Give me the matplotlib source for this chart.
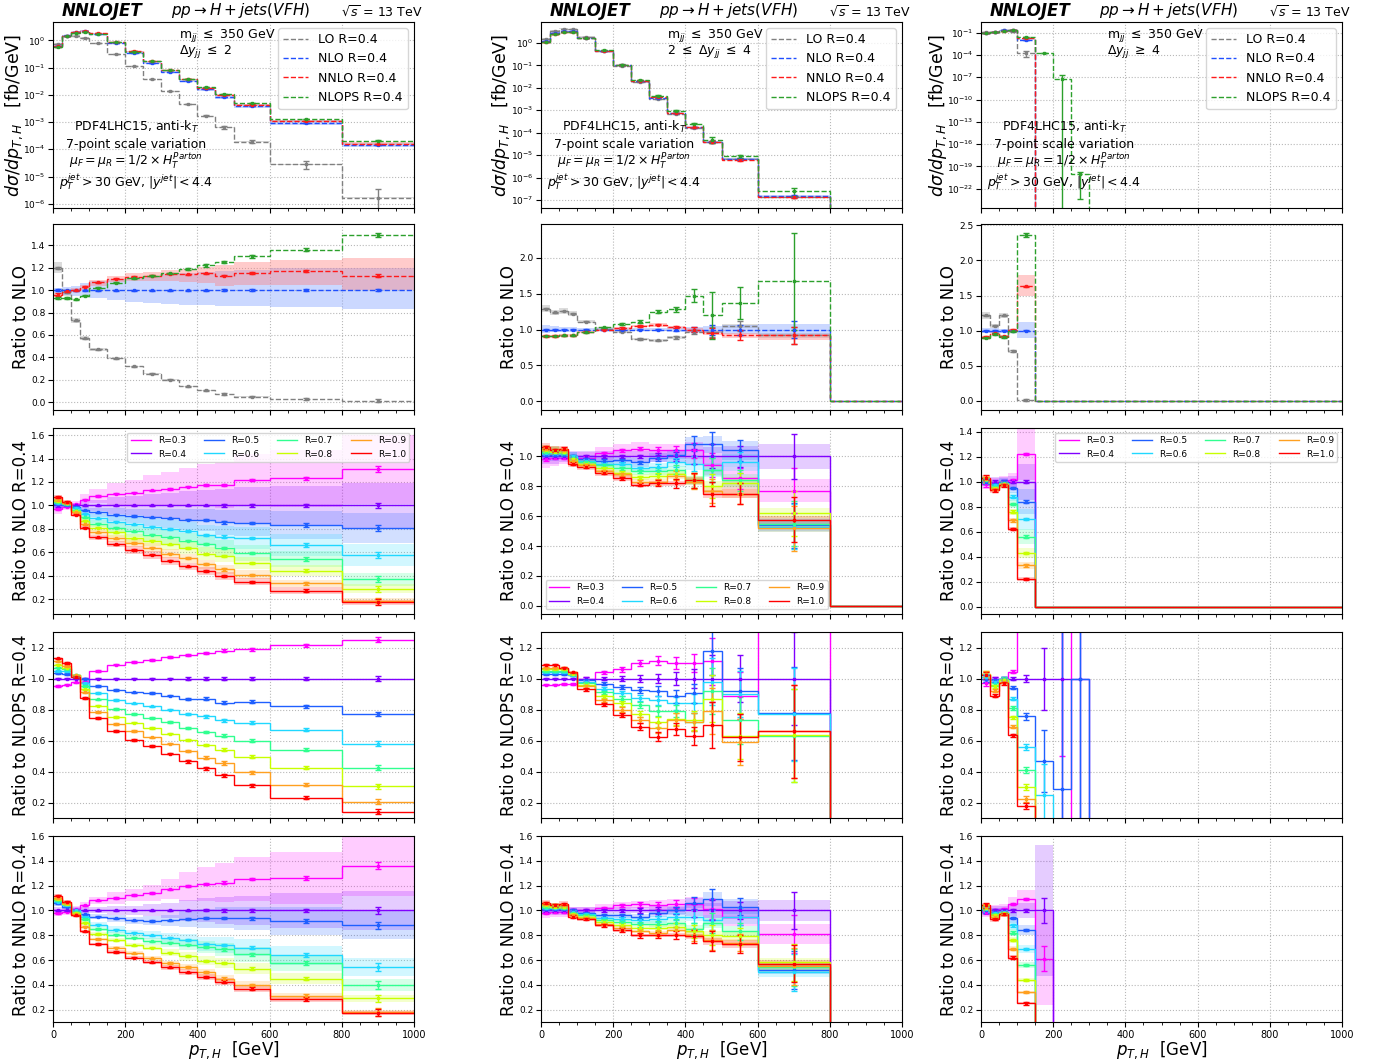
import matplotlib.pyplot as plt
import numpy as np
from matplotlib.ticker import MultipleLocator, NullLocator

# pT,H bins (GeV)
edges = np.array([0, 25, 50, 75, 100, 150, 200, 250, 300, 350, 400, 450, 500, 600, 800, 1000])
centers = 0.5 * (edges[:-1] + edges[1:])

cut_mjj = r'm$_{jj}$ $\leq$ 350 GeV'
cut_dy = [r'$\Delta y_{jj}$ $\leq$ 2', r'2 $\leq$ $\Delta y_{jj}$ $\leq$ 4', r'$\Delta y_{jj}$ $\geq$ 4']

order_names = ['LO R=0.4', 'NLO R=0.4', 'NNLO R=0.4', 'NLOPS R=0.4']
order_colors = ['#808080', '#1f4fff', '#ff1a1a', '#2ca02c']

r_labels = ['R=0.3', 'R=0.4', 'R=0.5', 'R=0.6', 'R=0.7', 'R=0.8', 'R=0.9', 'R=1.0']
r_colors = ['#ff00ff', '#8000ff', '#1f5fff', '#20d8ff', '#30ff90', '#c8ff00', '#ffa020', '#ff0000']
r_band_scale = [1.4, 1.2, 1.0, 1.0, 0.9, 0.8, 0.7, 0.7]

lo_band = [0.04, 0.03, 0.03, 0.03, 0.02, 0.02, 0.02, 0.02, 0.02, 0.02, 0.02, 0.02, 0.03, 0.04, 0.04]

# ---------------- column 1: dy <= 2 ----------------
c1_nlo = [0.62, 1.5, 2.0, 2.2, 1.7, 0.80, 0.35, 0.15, 0.070, 0.033, 0.016, 0.0085, 0.0038, 0.00095, 0.00014]
c1_lo = [1.20, 0.98, 0.73, 0.57, 0.47, 0.39, 0.32, 0.255, 0.20, 0.14, 0.105, 0.075, 0.05, 0.03, 0.012]
c1_nnlo = [0.96, 0.99, 1.00, 1.03, 1.07, 1.10, 1.12, 1.13, 1.145, 1.14, 1.15, 1.13, 1.155, 1.17, 1.13]
c1_nlops = [0.93, 0.93, 0.92, 0.95, 1.02, 1.065, 1.105, 1.13, 1.15, 1.19, 1.22, 1.25, 1.30, 1.36, 1.49]
c1_nlo_lo = [0.97, 0.96, 0.95, 0.94, 0.93, 0.91, 0.895, 0.885, 0.88, 0.87, 0.865, 0.86, 0.855, 0.845, 0.835]
c1_nlo_hi = [1.02, 1.03, 1.04, 1.06, 1.08, 1.10, 1.12, 1.13, 1.14, 1.15, 1.16, 1.17, 1.18, 1.20, 1.20]
c1_nnlo_lo = [0.94, 0.97, 0.98, 1.00, 1.04, 1.07, 1.08, 1.08, 1.08, 1.07, 1.06, 1.04, 1.05, 1.05, 1.00]
c1_nnlo_hi = [0.97, 1.00, 1.02, 1.05, 1.09, 1.13, 1.15, 1.16, 1.18, 1.19, 1.21, 1.22, 1.25, 1.27, 1.29]
c1_stat = [0.01, 0.005, 0.005, 0.005, 0.005, 0.005, 0.005, 0.005, 0.005, 0.005, 0.005, 0.007, 0.007, 0.01, 0.012]
c1_ps_stat = [0.005, 0.005, 0.005, 0.005, 0.005, 0.005, 0.005, 0.007, 0.007, 0.008, 0.01, 0.01, 0.01, 0.012, 0.02]

c1_r_nlo = [
    [0.97, 0.99, 1.01, 1.05, 1.08, 1.10, 1.11, 1.13, 1.14, 1.16, 1.175, 1.175, 1.215, 1.23, 1.31],
    [1.0] * 15,
    [1.01, 1.00, 0.99, 0.96, 0.94, 0.92, 0.91, 0.90, 0.89, 0.88, 0.875, 0.855, 0.85, 0.835, 0.81],
    [1.02, 1.01, 0.98, 0.93, 0.89, 0.86, 0.84, 0.82, 0.80, 0.78, 0.75, 0.735, 0.725, 0.665, 0.58],
    [1.03, 1.01, 0.96, 0.90, 0.845, 0.81, 0.78, 0.75, 0.73, 0.70, 0.67, 0.635, 0.595, 0.545, 0.37],
    [1.04, 1.02, 0.95, 0.87, 0.81, 0.77, 0.72, 0.70, 0.67, 0.64, 0.59, 0.57, 0.51, 0.445, 0.29],
    [1.05, 1.02, 0.94, 0.84, 0.77, 0.72, 0.68, 0.64, 0.59, 0.55, 0.50, 0.455, 0.41, 0.335, 0.19],
    [1.07, 1.03, 0.92, 0.81, 0.73, 0.67, 0.62, 0.58, 0.53, 0.48, 0.445, 0.40, 0.35, 0.275, 0.175],
]
c1_r_nlops = [
    [0.95, 0.96, 0.975, 0.98, 1.05, 1.09, 1.105, 1.12, 1.14, 1.15, 1.165, 1.18, 1.19, 1.215, 1.25],
    [1.0] * 15,
    [1.035, 1.03, 1.01, 1.0, 0.95, 0.925, 0.91, 0.905, 0.89, 0.87, 0.87, 0.845, 0.85, 0.82, 0.77],
    [1.05, 1.05, 1.02, 0.97, 0.905, 0.86, 0.84, 0.82, 0.80, 0.77, 0.755, 0.73, 0.715, 0.67, 0.58],
    [1.07, 1.06, 1.02, 0.95, 0.865, 0.805, 0.77, 0.745, 0.72, 0.68, 0.655, 0.63, 0.60, 0.54, 0.425],
    [1.09, 1.07, 1.02, 0.93, 0.825, 0.75, 0.715, 0.68, 0.645, 0.605, 0.57, 0.54, 0.495, 0.425, 0.305],
    [1.11, 1.08, 1.02, 0.91, 0.785, 0.705, 0.66, 0.62, 0.58, 0.53, 0.49, 0.455, 0.395, 0.315, 0.205],
    [1.13, 1.10, 1.01, 0.875, 0.745, 0.66, 0.605, 0.565, 0.515, 0.465, 0.42, 0.375, 0.31, 0.23, 0.14],
]
c1_r_nnlo = [
    [0.98, 0.99, 1.01, 1.04, 1.08, 1.10, 1.125, 1.14, 1.17, 1.195, 1.215, 1.225, 1.255, 1.26, 1.36],
    [1.0] * 15,
    [1.06, 1.03, 1.0, 0.97, 0.95, 0.935, 0.92, 0.915, 0.92, 0.93, 0.935, 0.94, 0.935, 0.915, 0.88],
    [1.07, 1.04, 1.0, 0.95, 0.885, 0.845, 0.82, 0.80, 0.78, 0.76, 0.73, 0.72, 0.70, 0.64, 0.545],
    [1.08, 1.05, 0.99, 0.93, 0.85, 0.805, 0.78, 0.75, 0.74, 0.725, 0.705, 0.685, 0.645, 0.575, 0.40],
    [1.09, 1.05, 0.98, 0.90, 0.81, 0.76, 0.72, 0.70, 0.66, 0.63, 0.595, 0.575, 0.53, 0.45, 0.29],
    [1.10, 1.06, 0.97, 0.87, 0.77, 0.70, 0.655, 0.615, 0.575, 0.545, 0.50, 0.45, 0.40, 0.31, 0.18],
    [1.12, 1.07, 0.96, 0.83, 0.73, 0.665, 0.62, 0.58, 0.54, 0.50, 0.465, 0.425, 0.37, 0.285, 0.175],
]
c1_r_err_nlo = [0.01, 0.005, 0.005, 0.005, 0.005, 0.005, 0.005, 0.005, 0.005, 0.007, 0.008, 0.01, 0.01, 0.015, 0.025]
c1_r_err_ps = [0.005, 0.005, 0.005, 0.005, 0.005, 0.005, 0.005, 0.005, 0.005, 0.007, 0.008, 0.01, 0.01, 0.01, 0.015]
c1_r_err_nnlo = [0.005, 0.005, 0.005, 0.005, 0.005, 0.005, 0.005, 0.005, 0.005, 0.007, 0.008, 0.01, 0.01, 0.015, 0.03]
c1_band_nlo = [0.03, 0.02, 0.02, 0.03, 0.04, 0.06, 0.07, 0.08, 0.09, 0.10, 0.11, 0.12, 0.13, 0.14, 0.16]
c1_band_nnlo = [0.02, 0.02, 0.02, 0.02, 0.02, 0.03, 0.03, 0.04, 0.05, 0.07, 0.08, 0.09, 0.10, 0.12, 0.13]

# ---------------- column 2: 2 <= dy <= 4 ----------------
c2_nlo = [1.2, 2.8, 3.4, 3.3, 1.7, 0.45, 0.10, 0.020, 0.0036, 0.00075, 0.00017, 0.00004, 6.6e-6, 1.5e-7, 0]
c2_lo = [1.29, 1.24, 1.26, 1.22, 1.11, 1.01, 0.97, 0.87, 0.85, 0.89, 0.97, 0.97, 1.05, 0.92, 0]
c2_nnlo = [0.91, 0.91, 0.92, 0.92, 0.97, 1.00, 1.02, 1.05, 1.07, 1.03, 1.00, 0.95, 0.92, 0.92, 0]
c2_nlops = [0.91, 0.91, 0.92, 0.92, 0.96, 1.03, 1.08, 1.11, 1.25, 1.28, 1.47, 1.20, 1.37, 1.67, 0]
c2_nlo_lo = [0.95, 0.96, 0.96, 0.97, 0.98, 0.98, 0.98, 0.98, 0.98, 0.97, 0.96, 0.95, 0.94, 0.93, 0]
c2_nlo_hi = [1.06, 1.05, 1.04, 1.03, 1.02, 1.02, 1.02, 1.02, 1.02, 1.03, 1.04, 1.05, 1.07, 1.08, 0]
c2_nnlo_lo = [0.89, 0.89, 0.90, 0.90, 0.95, 0.99, 1.00, 1.03, 1.04, 1.01, 0.97, 0.92, 0.88, 0.86, 0]
c2_nnlo_hi = [0.93, 0.93, 0.94, 0.94, 0.98, 1.01, 1.04, 1.07, 1.09, 1.05, 1.02, 0.98, 0.95, 0.94, 0]
c2_stat = [0.01, 0.01, 0.005, 0.005, 0.005, 0.005, 0.01, 0.01, 0.01, 0.015, 0.03, 0.07, 0.07, 0.12, 0]
c2_ps_stat = [0.005, 0.005, 0.005, 0.005, 0.005, 0.01, 0.01, 0.02, 0.02, 0.04, 0.09, 0.33, 0.22, 0.68, 0]

c2_r_nlo = [
    [0.98, 0.99, 0.99, 0.99, 0.99, 1.02, 1.04, 1.05, 1.04, 1.04, 1.04, 0.94, 0.855, 0.77, 0],
    [1.0] * 14 + [0],
    [1.01, 1.01, 1.01, 1.0, 0.98, 0.97, 0.975, 0.96, 0.99, 1.01, 1.085, 1.08, 1.04, 0.54, 0],
    [1.02, 1.02, 1.02, 1.0, 0.97, 0.95, 0.95, 0.92, 0.93, 0.96, 0.95, 0.91, 0.96, 0.53, 0],
    [1.03, 1.03, 1.02, 0.99, 0.96, 0.94, 0.92, 0.90, 0.90, 0.91, 0.84, 0.91, 0.84, 0.55, 0],
    [1.04, 1.03, 1.03, 0.98, 0.95, 0.92, 0.89, 0.86, 0.87, 0.88, 0.84, 0.80, 0.82, 0.62, 0],
    [1.05, 1.04, 1.04, 0.97, 0.94, 0.90, 0.88, 0.83, 0.83, 0.87, 0.83, 0.77, 0.75, 0.52, 0],
    [1.06, 1.04, 1.05, 0.95, 0.93, 0.89, 0.855, 0.81, 0.82, 0.82, 0.84, 0.75, 0.75, 0.575, 0],
]
c2_r_nlops = [
    [0.96, 0.96, 0.965, 0.965, 1.0, 1.04, 1.06, 1.10, 1.115, 1.10, 1.10, 1.11, 0.89, 2.0, 0],
    [1.0] * 14 + [0],
    [1.03, 1.03, 1.03, 1.02, 0.99, 0.965, 0.945, 0.925, 0.92, 0.885, 0.905, 1.175, 0.92, 0.775, 0],
    [1.04, 1.04, 1.04, 1.02, 0.98, 0.935, 0.905, 0.875, 0.86, 0.84, 0.84, 0.98, 0.90, 0.77, 0],
    [1.05, 1.05, 1.05, 1.03, 0.97, 0.91, 0.87, 0.83, 0.79, 0.79, 0.72, 0.92, 0.73, 0.63, 0],
    [1.06, 1.06, 1.06, 1.03, 0.96, 0.885, 0.84, 0.77, 0.72, 0.74, 0.73, 0.87, 0.63, 0.635, 0],
    [1.07, 1.07, 1.07, 1.04, 0.95, 0.86, 0.80, 0.73, 0.68, 0.735, 0.72, 0.79, 0.59, 0.66, 0],
    [1.09, 1.09, 1.07, 1.04, 0.93, 0.835, 0.765, 0.69, 0.625, 0.675, 0.63, 0.70, 0.62, 0.66, 0],
]
c2_r_nnlo = [
    [0.98, 0.99, 0.99, 1.0, 1.0, 1.02, 1.04, 1.05, 1.04, 1.05, 1.05, 1.01, 0.95, 0.81, 0],
    [1.0] * 14 + [0],
    [1.01, 1.01, 1.01, 1.0, 0.98, 0.96, 0.96, 0.95, 0.98, 1.0, 1.06, 1.09, 1.03, 0.52, 0],
    [1.02, 1.02, 1.02, 0.99, 0.97, 0.94, 0.93, 0.92, 0.93, 0.95, 0.95, 0.92, 0.95, 0.50, 0],
    [1.03, 1.03, 1.02, 0.98, 0.96, 0.92, 0.91, 0.89, 0.89, 0.90, 0.85, 0.90, 0.83, 0.54, 0],
    [1.04, 1.03, 1.03, 0.97, 0.95, 0.91, 0.88, 0.86, 0.86, 0.87, 0.83, 0.80, 0.79, 0.58, 0],
    [1.05, 1.04, 1.04, 0.96, 0.94, 0.89, 0.86, 0.83, 0.82, 0.84, 0.80, 0.76, 0.74, 0.55, 0],
    [1.06, 1.04, 1.05, 0.95, 0.93, 0.88, 0.84, 0.80, 0.80, 0.80, 0.79, 0.75, 0.73, 0.57, 0],
]
c2_r_err_nlo = [0.01, 0.01, 0.01, 0.01, 0.01, 0.01, 0.01, 0.01, 0.02, 0.03, 0.05, 0.08, 0.07, 0.15, 0]
c2_r_err_ps = [0.005, 0.005, 0.005, 0.005, 0.01, 0.01, 0.015, 0.02, 0.03, 0.04, 0.06, 0.15, 0.15, 0.3, 0]
c2_r_err_nnlo = [0.01, 0.01, 0.01, 0.01, 0.01, 0.01, 0.015, 0.02, 0.025, 0.03, 0.05, 0.08, 0.07, 0.15, 0]
c2_band_nlo = [0.04, 0.04, 0.03, 0.03, 0.03, 0.03, 0.03, 0.03, 0.03, 0.03, 0.04, 0.05, 0.06, 0.07, 0]
c2_band_nnlo = [0.03, 0.03, 0.03, 0.02, 0.02, 0.02, 0.02, 0.02, 0.03, 0.03, 0.04, 0.05, 0.06, 0.07, 0]

# ---------------- column 3: dy >= 4 ----------------
c3_nlo = [0.10, 0.12, 0.20, 0.20, 0.0116] + [0] * 10
c3_lo = [1.22, 1.07, 1.22, 0.71, 0.015] + [0] * 10
c3_nnlo = [0.91, 0.96, 0.92, 1.01, 1.63] + [0] * 10
c3_nlops = [0.90, 0.95, 0.91, 0.99, 2.36] + [0] * 10
c3_nlops_abs = [0.09, 0.114, 0.182, 0.198, 0.0274, 2.0e-4, 5e-8, 1e-20] + [0] * 7
c3_nlops_abs_err = [0, 0, 0, 0, 0, 0, 1.5e-7, 9.996e-21] + [0] * 7
c3_nlo_lo = [0.96, 0.96, 0.96, 0.97, 0.89] + [0] * 10
c3_nlo_hi = [1.04, 1.04, 1.03, 1.03, 1.13] + [0] * 10
c3_nnlo_lo = [0.89, 0.94, 0.90, 0.99, 1.49] + [0] * 10
c3_nnlo_hi = [0.93, 0.98, 0.94, 1.03, 1.79] + [0] * 10
c3_stat = [0.01, 0.01, 0.01, 0.01, 0.01] + [0] * 10
c3_ps_stat = [0.01, 0.01, 0.01, 0.01, 0.03] + [0] * 10

c3_r_nlo = [
    [0.98, 0.99, 1.0, 1.01, 1.22] + [0] * 10,
    [1.0, 1.0, 1.0, 1.0, 1.0] + [0] * 10,
    [1.0, 0.98, 1.0, 0.95, 0.84] + [0] * 10,
    [1.01, 0.97, 0.99, 0.88, 0.70] + [0] * 10,
    [1.01, 0.96, 0.99, 0.82, 0.56] + [0] * 10,
    [1.02, 0.95, 0.98, 0.76, 0.43] + [0] * 10,
    [1.02, 0.94, 0.98, 0.69, 0.33] + [0] * 10,
    [1.03, 0.93, 0.97, 0.62, 0.22] + [0] * 10,
]
c3_r_nlops = [
    [0.97, 1.0, 1.0, 1.045, 1.6, 2.5, 2.0] + [0] * 8,
    [1.0] * 8 + [0] * 7,
    [1.0, 0.99, 1.0, 0.94, 0.755, 0.47, 0.29, 1.0] + [0] * 7,
    [1.01, 0.98, 1.0, 0.87, 0.56, 0.25] + [0] * 9,
    [1.02, 0.96, 1.0, 0.81, 0.41] + [0] * 10,
    [1.03, 0.95, 0.99, 0.75, 0.30] + [0] * 10,
    [1.03, 0.92, 0.98, 0.69, 0.225] + [0] * 10,
    [1.02, 0.89, 0.97, 0.635, 0.175] + [0] * 10,
]
c3_r_nnlo = [
    [0.99, 1.0, 1.01, 1.05, 1.09, 0.61] + [0] * 9,
    [1.0] * 6 + [0] * 9,
    [1.0, 0.99, 0.99, 0.94, 0.84] + [0] * 10,
    [1.01, 0.98, 0.99, 0.88, 0.69] + [0] * 10,
    [1.02, 0.97, 0.98, 0.82, 0.56] + [0] * 10,
    [1.02, 0.96, 0.98, 0.76, 0.44] + [0] * 10,
    [1.03, 0.95, 0.97, 0.69, 0.34] + [0] * 10,
    [1.04, 0.93, 0.97, 0.62, 0.25] + [0] * 10,
]
c3_r_err_nlo = [0.02, 0.01, 0.01, 0.01, 0.01] + [0] * 10
c3_r_err_ps = [0.02, 0.01, 0.01, 0.01, 0.02, 0.2, 1.5, 1.5] + [0] * 7
c3_r_err_nnlo = [0.02, 0.01, 0.01, 0.01, 0.01, 0.1] + [0] * 9
c3_band_nlo = [0.03, 0.03, 0.03, 0.04, 0.12] + [0] * 10
c3_band_nnlo = [0.03, 0.03, 0.03, 0.04, 0.05, 0.44] + [0] * 9

cols = [
    dict(nlo=c1_nlo, lo=c1_lo, nnlo=c1_nnlo, nlops=c1_nlops, ps_abs=None, ps_abs_err=None,
         nlo_lo=c1_nlo_lo, nlo_hi=c1_nlo_hi, nnlo_lo=c1_nnlo_lo, nnlo_hi=c1_nnlo_hi,
         stat=c1_stat, ps_stat=c1_ps_stat, top_ylim=(7e-7, 4.7), top_ticks=range(-6, 1),
         top_lab_x=-0.078, r2_ylim=(-0.07, 1.59), r2_step=0.2,
         r_nlo=c1_r_nlo, r_nlops=c1_r_nlops, r_nnlo=c1_r_nnlo,
         e_nlo=c1_r_err_nlo, e_ps=c1_r_err_ps, e_nnlo=c1_r_err_nnlo,
         b_nlo=c1_band_nlo, b_nnlo=c1_band_nnlo, r3_ylim=(0.075, 1.66), leg_loc='upper right'),
    dict(nlo=c2_nlo, lo=c2_lo, nnlo=c2_nnlo, nlops=c2_nlops, ps_abs=None, ps_abs_err=None,
         nlo_lo=c2_nlo_lo, nlo_hi=c2_nlo_hi, nnlo_lo=c2_nnlo_lo, nnlo_hi=c2_nnlo_hi,
         stat=c2_stat, ps_stat=c2_ps_stat, top_ylim=(4.4e-8, 8.5), top_ticks=range(-7, 1),
         top_lab_x=-0.08, r2_ylim=(-0.12, 2.47), r2_step=0.5,
         r_nlo=c2_r_nlo, r_nlops=c2_r_nlops, r_nnlo=c2_r_nnlo,
         e_nlo=c2_r_err_nlo, e_ps=c2_r_err_ps, e_nnlo=c2_r_err_nnlo,
         b_nlo=c2_band_nlo, b_nnlo=c2_band_nnlo, r3_ylim=(-0.055, 1.19), leg_loc='lower left'),
    dict(nlo=c3_nlo, lo=c3_lo, nnlo=c3_nnlo, nlops=c3_nlops, ps_abs=c3_nlops_abs, ps_abs_err=c3_nlops_abs_err,
         nlo_lo=c3_nlo_lo, nlo_hi=c3_nlo_hi, nnlo_lo=c3_nnlo_lo, nnlo_hi=c3_nnlo_hi,
         stat=c3_stat, ps_stat=c3_ps_stat, top_ylim=(10 ** -24.6, 10 ** 0.43), top_ticks=range(-22, 0, 3),
         top_lab_x=-0.088, r2_ylim=(-0.13, 2.52), r2_step=0.5,
         r_nlo=c3_r_nlo, r_nlops=c3_r_nlops, r_nnlo=c3_r_nnlo,
         e_nlo=c3_r_err_nlo, e_ps=c3_r_err_ps, e_nnlo=c3_r_err_nnlo,
         b_nlo=c3_band_nlo, b_nnlo=c3_band_nnlo, r3_ylim=(-0.06, 1.43), leg_loc='upper right'),
]

W, H = 1387, 1064
fig = plt.figure(figsize=(W / 100, H / 100), dpi=100)
lefts = [53, 541, 981]
tops = [22, 224, 428, 632, 836]
aw, ah = 361, 186


def add(i, j):
    return fig.add_axes([lefts[j] / W, 1 - (tops[i] + ah) / H, aw / W, ah / H])


def style_x(ax, bottom=False):
    ax.set_xlim(0, 1000)
    ax.xaxis.set_major_locator(MultipleLocator(200))
    ax.xaxis.set_minor_locator(MultipleLocator(50))
    ax.grid(True, which='major', linestyle=':', color='#b8b8b8', lw=0.8)
    ax.set_axisbelow(True)
    ax.tick_params(axis='x', labelsize=7, pad=2)
    ax.tick_params(axis='y', labelsize=6.5, pad=2)
    ax.yaxis.set_label_coords(-0.064, 0.5)
    if not bottom:
        ax.tick_params(labelbottom=False)
    else:
        ax.set_xlabel(r'$p_{T,H}$  [GeV]', fontsize=12)
        ax.xaxis.set_label_coords(0.5, -0.095)


def errbars(ax, y, e, c):
    y = np.asarray(y, float)
    e = np.asarray(e, float)
    m = y > 0
    ax.errorbar(centers[m], y[m], yerr=e[m], fmt='s', ms=2, color=c, ecolor=c,
                elinewidth=1, capsize=2, capthick=1)


def r_panel(ax, vals, err, band, ylabel, ylim, step, legend_loc=None):
    for i, v in enumerate(vals):
        v = np.asarray(v, float)
        c = r_colors[i]
        if band is not None:
            w = np.asarray(band) * r_band_scale[i]
            ax.stairs(v * (1 + w), edges, baseline=v * (1 - w), fill=True,
                      color=c, alpha=0.2, lw=0)
    for i, v in enumerate(vals):
        ax.stairs(v, edges, baseline=None, color=r_colors[i], lw=1, label=r_labels[i])
        errbars(ax, v, err, r_colors[i])
    ax.set_ylim(*ylim)
    ax.yaxis.set_major_locator(MultipleLocator(step))
    ax.set_ylabel(ylabel, fontsize=12)
    if legend_loc:
        ax.legend(loc=legend_loc, ncol=4, fontsize=6.5, handlelength=2.2, columnspacing=2.0)


for k, col in enumerate(cols):
    nlo = np.asarray(col['nlo'], float)
    ones = (nlo > 0).astype(float)
    ratios = [np.asarray(col['lo']), ones, np.asarray(col['nnlo']), np.asarray(col['nlops'])]
    lo_r = ratios[0]
    bands = [(lo_r * (1 - np.asarray(lo_band)), lo_r * (1 + np.asarray(lo_band))),
             (np.asarray(col['nlo_lo']), np.asarray(col['nlo_hi'])),
             (np.asarray(col['nnlo_lo']), np.asarray(col['nnlo_hi']))]
    band_cols = ['#a8a8a8', '#7f9fff', '#ff7f7f']
    stats = [np.asarray(col['stat']), np.asarray(col['stat']), np.asarray(col['stat']),
             np.asarray(col['ps_stat'])]

    # ---- row 1: absolute distribution ----
    ax = add(0, k)
    ax.set_yscale('log')
    for (blo, bhi), bc in zip(bands, band_cols):
        ax.stairs(nlo * bhi, edges, baseline=nlo * blo, fill=True, color=bc, alpha=0.4, lw=0)
    handles = []
    for s in range(4):
        y = nlo * ratios[s]
        # relative stat error on the absolute value
        e = y * stats[s] / np.where(ratios[s] > 0, ratios[s], 1)
        if s == 3 and col['ps_abs'] is not None:
            y = np.asarray(col['ps_abs'], float)
            e = np.asarray(col['ps_abs_err'], float)
        h = ax.stairs(y, edges, baseline=None, color=order_colors[s], lw=1,
                      linestyle='--', label=order_names[s])
        handles.append(h)
        errbars(ax, y, e, order_colors[s])
    style_x(ax)
    ax.yaxis.set_label_coords(col['top_lab_x'], 0.5)
    ax.set_ylim(*col['top_ylim'])
    ax.set_yticks([10.0 ** p for p in col['top_ticks']])
    ax.yaxis.set_minor_locator(NullLocator())
    ax.set_ylabel(r'$d\sigma/dp_{T,H}$   [fb/GeV]', fontsize=12.5)
    ax.legend(handles=handles, loc='upper right', fontsize=9)
    ax.text(0.025, 1.01, 'NNLOJET', transform=ax.transAxes, fontsize=12,
            fontweight='bold', fontstyle='italic', ha='left', va='bottom')
    ax.text(0.52, 1.01, r'$pp \rightarrow H + jets(VFH)$', transform=ax.transAxes,
            fontsize=11, ha='center', va='bottom')
    ax.text(1.025, 1.01, r'$\sqrt{s}$ = 13 TeV', transform=ax.transAxes,
            fontsize=9, ha='right', va='bottom')
    ax.text(0.35, 0.93, cut_mjj, transform=ax.transAxes, fontsize=9, va='center')
    ax.text(0.35, 0.84, cut_dy[k], transform=ax.transAxes, fontsize=9, va='center')
    block = ['PDF4LHC15, anti-k$_T$', '7-point scale variation',
             r'$\mu_F = \mu_R = 1/2 \times H_T^{Parton}$',
             r'$p_T^{jet} > 30$ GeV, $|y^{jet}| < 4.4$']
    for t, yy in zip(block, [0.435, 0.34, 0.245, 0.145]):
        ax.text(0.23, yy, t, transform=ax.transAxes, fontsize=9, ha='center', va='center')

    # ---- row 2: ratio to NLO ----
    ax = add(1, k)
    for (blo, bhi), bc in zip(bands, band_cols):
        ax.stairs(bhi, edges, baseline=blo, fill=True, color=bc, alpha=0.4, lw=0)
    for s in range(4):
        ax.stairs(ratios[s], edges, baseline=None, color=order_colors[s], lw=1, linestyle='--')
        errbars(ax, ratios[s], stats[s], order_colors[s])
    style_x(ax)
    ax.set_ylim(*col['r2_ylim'])
    ax.yaxis.set_major_locator(MultipleLocator(col['r2_step']))
    ax.set_ylabel('Ratio to NLO', fontsize=12)

    # ---- rows 3-5: R dependence ----
    ax = add(2, k)
    r_panel(ax, col['r_nlo'], col['e_nlo'], col['b_nlo'], 'Ratio to NLO R=0.4',
            col['r3_ylim'], 0.2, legend_loc=col['leg_loc'])
    style_x(ax)
    ax = add(3, k)
    r_panel(ax, col['r_nlops'], col['e_ps'], None, 'Ratio to NLOPS R=0.4', (0.1, 1.3), 0.2)
    style_x(ax)
    ax = add(4, k)
    r_panel(ax, col['r_nnlo'], col['e_nnlo'], col['b_nnlo'], 'Ratio to NNLO R=0.4', (0.1, 1.6), 0.2)
    style_x(ax, bottom=True)

fig.savefig('out.png', dpi=100)
